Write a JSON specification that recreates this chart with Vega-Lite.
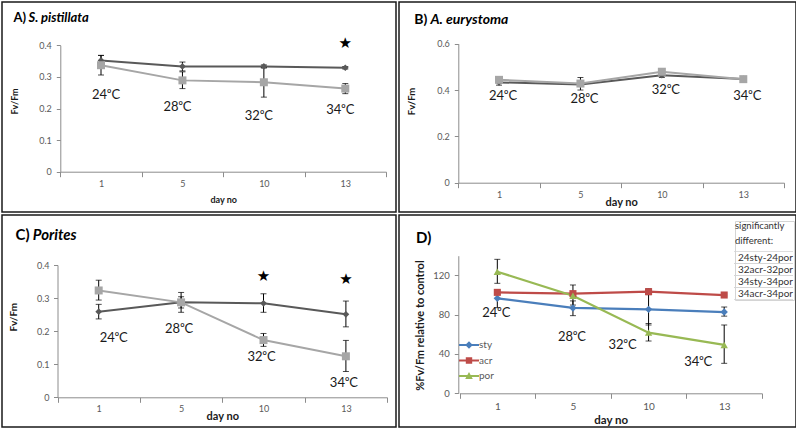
{
  "$schema": "https://vega.github.io/schema/vega-lite/v6.json",
  "padding": {"left": 1, "top": 1, "right": 0, "bottom": 0},
  "background": "white",
  "columns": 2,
  "spacing": 3,
  "bounds": "flush",
  "resolve": {
    "scale": {"color": "independent", "shape": "independent", "size": "independent", "fill": "independent"},
    "legend": {"color": "independent", "fill": "independent", "shape": "independent", "size": "independent"}
  },
  "config": {
    "view": {"stroke": "#1a1a1a", "strokeWidth": 1.5},
    "font": "Lato",
    "text": {"font": "Lato"},
    "axis": {"grid": false, "domainColor": "#8c8c8c", "tickColor": "#8c8c8c", "labelColor": "#595959", "labelFont": "Lato", "titleFont": "Lato", "titleFontWeight": "bold", "titleColor": "#1a1a1a", "domainWidth": 1, "tickWidth": 1},
    "axisX": {"labelAngle": 0, "tickBand": "extent", "tickSize": 5},
    "axisY": {"tickSize": 4},
    "title": {"anchor": "start", "frame": "group", "font": "Lato", "fontWeight": "bold", "fontStyle": "normal", "subtitleFont": "Lato", "subtitleFontWeight": "bold", "subtitleFontStyle": "italic", "color": "#000", "subtitleColor": "#000"}
  },
  "concat": [
    {
      "width": 394, "height": 210,
      "title": {"text": "A)", "subtitle": "\u200b\u2003\u2002S. pistillata", "fontSize": 13, "subtitleFontSize": 13, "subtitlePadding": -13, "offset": -23, "dx": 11.5},
      "data": {"values": [
        {"day": 1, "series": "control", "value": 0.352, "lo": 0.336, "hi": 0.368},
        {"day": 5, "series": "control", "value": 0.333, "lo": 0.319, "hi": 0.347},
        {"day": 10, "series": "control", "value": 0.333, "lo": 0.328, "hi": 0.338},
        {"day": 13, "series": "control", "value": 0.329, "lo": 0.325, "hi": 0.333},
        {"day": 1, "series": "treatment", "value": 0.337, "lo": 0.306, "hi": 0.368},
        {"day": 5, "series": "treatment", "value": 0.289, "lo": 0.263, "hi": 0.316},
        {"day": 10, "series": "treatment", "value": 0.283, "lo": 0.236, "hi": 0.33},
        {"day": 13, "series": "treatment", "value": 0.263, "lo": 0.247, "hi": 0.279}
      ]},
      "encoding": {"x": {"field": "day", "type": "ordinal", "title": "day no", "scale": {"type": "band", "domain": [1, 5, 10, 13], "range": [58.3, 384], "paddingInner": 0, "paddingOuter": 0}, "axis": {"offset": -40.3, "labelFontSize": 9, "labelPadding": 2.5, "titleFontSize": 9, "titleY": 27.6, "titleBaseline": "middle"}}},
      "layer": [
        {"mark": {"type": "line", "strokeWidth": 2}, "encoding": {
          "y": {"field": "value", "type": "quantitative", "title": "Fv/Fm", "scale": {"domain": [0, 0.4], "range": [169.7, 43.3]}, "axis": {"offset": -58.3, "values": [0, 0.1, 0.2, 0.3, 0.4], "format": ".1~f", "labelFontSize": 9, "labelPadding": 5, "titleFontSize": 9, "titleX": -46, "titleY": 99, "titleBaseline": "middle"}},
          "color": {"field": "series", "type": "nominal", "scale": {"domain": ["control", "treatment"], "range": ["#595959", "#a6a6a6"]}, "legend": null}}},
        {"mark": {"type": "rule", "color": "#000", "strokeWidth": 1}, "encoding": {
          "y": {"field": "lo", "type": "quantitative", "title": "Fv/Fm", "scale": {"domain": [0, 0.4], "range": [169.7, 43.3]}},
          "y2": {"field": "hi"}}},
        {"mark": {"type": "tick", "orient": "horizontal", "color": "#000", "size": 6, "thickness": 1}, "encoding": {
          "y": {"field": "lo", "type": "quantitative", "title": "Fv/Fm", "scale": {"domain": [0, 0.4], "range": [169.7, 43.3]}}}},
        {"mark": {"type": "tick", "orient": "horizontal", "color": "#000", "size": 6, "thickness": 1}, "encoding": {
          "y": {"field": "hi", "type": "quantitative", "title": "Fv/Fm", "scale": {"domain": [0, 0.4], "range": [169.7, 43.3]}}}},
        {"mark": {"type": "point", "filled": true, "opacity": 1}, "encoding": {
          "y": {"field": "value", "type": "quantitative", "title": "Fv/Fm", "scale": {"domain": [0, 0.4], "range": [169.7, 43.3]}},
          "color": {"field": "series", "type": "nominal", "scale": {"domain": ["control", "treatment"], "range": ["#595959", "#a6a6a6"]}, "legend": null},
          "shape": {"field": "series", "type": "nominal", "scale": {"domain": ["control", "treatment"], "range": ["diamond", "square"]}, "legend": null},
          "size": {"field": "series", "type": "ordinal", "scale": {"domain": ["control", "treatment"], "range": [45, 64]}, "legend": null}}},
        {"data": {"values": [{"day": 1, "t": "24⁰C", "ly": 0.243}]},
         "mark": {"type": "text", "fontSize": 13, "dx": 5, "color": "#1a1a1a"},
         "encoding": {"y": {"field": "ly", "type": "quantitative", "title": "Fv/Fm", "scale": {"domain": [0, 0.4], "range": [169.7, 43.3]}}, "text": {"field": "t"}}},
        {"data": {"values": [{"day": 5, "t": "28⁰C", "ly": 0.205}, {"day": 10, "t": "32⁰C", "ly": 0.176}, {"day": 13, "t": "34⁰C", "ly": 0.195}]},
         "mark": {"type": "text", "fontSize": 13, "dx": -5, "color": "#1a1a1a"},
         "encoding": {"y": {"field": "ly", "type": "quantitative", "title": "Fv/Fm", "scale": {"domain": [0, 0.4], "range": [169.7, 43.3]}}, "text": {"field": "t"}}},
        {"data": {"values": [{"day": 13, "t": "★", "ly": 0.408}]},
         "mark": {"type": "text", "font": "DejaVu Sans", "fontSize": 15, "color": "#000"},
         "encoding": {"y": {"field": "ly", "type": "quantitative", "title": "Fv/Fm", "scale": {"domain": [0, 0.4], "range": [169.7, 43.3]}}, "text": {"field": "t"}}}
      ]
    },
    {
      "width": 397, "height": 210,
      "title": {"text": "B)", "subtitle": "\u200b\u2003\u2002A. eurystoma", "fontSize": 14, "subtitleFontSize": 14, "subtitlePadding": -14, "offset": -25, "dx": 15.3},
      "data": {"values": [
        {"day": 1, "series": "control", "value": 0.433, "lo": 0.421, "hi": 0.445},
        {"day": 5, "series": "control", "value": 0.424, "lo": 0.416, "hi": 0.432},
        {"day": 10, "series": "control", "value": 0.464, "lo": 0.454, "hi": 0.474},
        {"day": 13, "series": "control", "value": 0.448, "lo": 0.443, "hi": 0.453},
        {"day": 1, "series": "treatment", "value": 0.444, "lo": 0.439, "hi": 0.449},
        {"day": 5, "series": "treatment", "value": 0.428, "lo": 0.4, "hi": 0.454},
        {"day": 10, "series": "treatment", "value": 0.479, "lo": 0.473, "hi": 0.485},
        {"day": 13, "series": "treatment", "value": 0.447, "lo": 0.443, "hi": 0.451}
      ]},
      "encoding": {"x": {"field": "day", "type": "ordinal", "title": "day no", "scale": {"type": "band", "domain": [1, 5, 10, 13], "range": [59.3, 385], "paddingInner": 0, "paddingOuter": 0}, "axis": {"offset": -29.3, "labelFontSize": 9, "labelPadding": 3, "titleFontSize": 11, "titleY": 19.5, "titleBaseline": "middle"}}},
      "layer": [
        {"mark": {"type": "line", "strokeWidth": 2}, "encoding": {
          "y": {"field": "value", "type": "quantitative", "title": "Fv/Fm", "scale": {"domain": [0, 0.6], "range": [180.7, 41.7]}, "axis": {"offset": -59.3, "values": [0, 0.1, 0.2, 0.3, 0.4, 0.5, 0.6], "format": ".1~f", "labelFontSize": 9, "labelPadding": 5, "titleFontSize": 9.5, "titleX": -47, "titleY": 99, "titleBaseline": "middle"}},
          "color": {"field": "series", "type": "nominal", "scale": {"domain": ["control", "treatment"], "range": ["#595959", "#a6a6a6"]}, "legend": null}}},
        {"mark": {"type": "rule", "color": "#000", "strokeWidth": 1}, "encoding": {
          "y": {"field": "lo", "type": "quantitative", "title": "Fv/Fm", "scale": {"domain": [0, 0.6], "range": [180.7, 41.7]}},
          "y2": {"field": "hi"}}},
        {"mark": {"type": "tick", "orient": "horizontal", "color": "#000", "size": 6, "thickness": 1}, "encoding": {
          "y": {"field": "lo", "type": "quantitative", "title": "Fv/Fm", "scale": {"domain": [0, 0.6], "range": [180.7, 41.7]}}}},
        {"mark": {"type": "tick", "orient": "horizontal", "color": "#000", "size": 6, "thickness": 1}, "encoding": {
          "y": {"field": "hi", "type": "quantitative", "title": "Fv/Fm", "scale": {"domain": [0, 0.6], "range": [180.7, 41.7]}}}},
        {"mark": {"type": "point", "filled": true, "opacity": 1}, "encoding": {
          "y": {"field": "value", "type": "quantitative", "title": "Fv/Fm", "scale": {"domain": [0, 0.6], "range": [180.7, 41.7]}},
          "color": {"field": "series", "type": "nominal", "scale": {"domain": ["control", "treatment"], "range": ["#595959", "#a6a6a6"]}, "legend": null},
          "shape": {"field": "series", "type": "nominal", "scale": {"domain": ["control", "treatment"], "range": ["diamond", "square"]}, "legend": null},
          "size": {"field": "series", "type": "ordinal", "scale": {"domain": ["control", "treatment"], "range": [45, 64]}, "legend": null}}},
        {"data": {"values": [{"day": 1, "t": "24⁰C", "ly": 0.374}, {"day": 5, "t": "28⁰C", "ly": 0.36}, {"day": 10, "t": "32⁰C", "ly": 0.399}, {"day": 13, "t": "34⁰C", "ly": 0.374}]},
         "mark": {"type": "text", "fontSize": 13, "dx": 4, "color": "#1a1a1a"},
         "encoding": {"y": {"field": "ly", "type": "quantitative", "title": "Fv/Fm", "scale": {"domain": [0, 0.6], "range": [180.7, 41.7]}}, "text": {"field": "t"}}}
      ]
    },
    {
      "width": 394, "height": 212,
      "title": {"text": "C)", "subtitle": "\u200b\u2003\u2002Porites", "fontSize": 15, "subtitleFontSize": 15, "subtitlePadding": -15, "offset": -28, "dx": 13.5},
      "data": {"values": [
        {"day": 1, "series": "control", "value": 0.259, "lo": 0.237, "hi": 0.281},
        {"day": 5, "series": "control", "value": 0.287, "lo": 0.257, "hi": 0.317},
        {"day": 10, "series": "control", "value": 0.284, "lo": 0.257, "hi": 0.313},
        {"day": 13, "series": "control", "value": 0.251, "lo": 0.213, "hi": 0.291},
        {"day": 1, "series": "treatment", "value": 0.323, "lo": 0.294, "hi": 0.354},
        {"day": 5, "series": "treatment", "value": 0.287, "lo": 0.27, "hi": 0.304},
        {"day": 10, "series": "treatment", "value": 0.173, "lo": 0.154, "hi": 0.193},
        {"day": 13, "series": "treatment", "value": 0.124, "lo": 0.078, "hi": 0.172}
      ]},
      "encoding": {"x": {"field": "day", "type": "ordinal", "title": "day no", "scale": {"type": "band", "domain": [1, 5, 10, 13], "range": [55.5, 385.1], "paddingInner": 0, "paddingOuter": 0}, "axis": {"offset": -29.7, "labelFontSize": 9, "labelPadding": 2.5, "titleFontSize": 11, "titleY": 19.4, "titleBaseline": "middle"}}},
      "layer": [
        {"mark": {"type": "line", "strokeWidth": 2}, "encoding": {
          "y": {"field": "value", "type": "quantitative", "title": "Fv/Fm", "scale": {"domain": [0, 0.4], "range": [182.3, 50]}, "axis": {"offset": -55.5, "values": [0, 0.1, 0.2, 0.3, 0.4], "format": ".1~f", "labelFontSize": 9, "labelPadding": 4.5, "titleFontSize": 10, "titleX": -44.5, "titleY": 101.7, "titleBaseline": "middle"}},
          "color": {"field": "series", "type": "nominal", "scale": {"domain": ["control", "treatment"], "range": ["#595959", "#a6a6a6"]}, "legend": null}}},
        {"mark": {"type": "rule", "color": "#000", "strokeWidth": 1}, "encoding": {
          "y": {"field": "lo", "type": "quantitative", "title": "Fv/Fm", "scale": {"domain": [0, 0.4], "range": [182.3, 50]}},
          "y2": {"field": "hi"}}},
        {"mark": {"type": "tick", "orient": "horizontal", "color": "#000", "size": 6, "thickness": 1}, "encoding": {
          "y": {"field": "lo", "type": "quantitative", "title": "Fv/Fm", "scale": {"domain": [0, 0.4], "range": [182.3, 50]}}}},
        {"mark": {"type": "tick", "orient": "horizontal", "color": "#000", "size": 6, "thickness": 1}, "encoding": {
          "y": {"field": "hi", "type": "quantitative", "title": "Fv/Fm", "scale": {"domain": [0, 0.4], "range": [182.3, 50]}}}},
        {"mark": {"type": "point", "filled": true, "opacity": 1}, "encoding": {
          "y": {"field": "value", "type": "quantitative", "title": "Fv/Fm", "scale": {"domain": [0, 0.4], "range": [182.3, 50]}},
          "color": {"field": "series", "type": "nominal", "scale": {"domain": ["control", "treatment"], "range": ["#595959", "#a6a6a6"]}, "legend": null},
          "shape": {"field": "series", "type": "nominal", "scale": {"domain": ["control", "treatment"], "range": ["diamond", "square"]}, "legend": null},
          "size": {"field": "series", "type": "ordinal", "scale": {"domain": ["control", "treatment"], "range": [45, 64]}, "legend": null}}},
        {"data": {"values": [{"day": 1, "t": "24⁰C", "ly": 0.178}]},
         "mark": {"type": "text", "fontSize": 13, "dx": 15, "color": "#1a1a1a"},
         "encoding": {"y": {"field": "ly", "type": "quantitative", "title": "Fv/Fm", "scale": {"domain": [0, 0.4], "range": [182.3, 50]}}, "text": {"field": "t"}}},
        {"data": {"values": [{"day": 5, "t": "28⁰C", "ly": 0.2065}, {"day": 10, "t": "32⁰C", "ly": 0.123}, {"day": 13, "t": "34⁰C", "ly": 0.042}]},
         "mark": {"type": "text", "fontSize": 13, "dx": -2, "color": "#1a1a1a"},
         "encoding": {"y": {"field": "ly", "type": "quantitative", "title": "Fv/Fm", "scale": {"domain": [0, 0.4], "range": [182.3, 50]}}, "text": {"field": "t"}}},
        {"data": {"values": [{"day": 10, "t": "★", "ly": 0.368}, {"day": 13, "t": "★", "ly": 0.358}]},
         "mark": {"type": "text", "font": "DejaVu Sans", "fontSize": 15, "color": "#000"},
         "encoding": {"y": {"field": "ly", "type": "quantitative", "title": "Fv/Fm", "scale": {"domain": [0, 0.4], "range": [182.3, 50]}}, "text": {"field": "t"}}}
      ]
    },
    {
      "width": 397, "height": 212,
      "title": {"text": "D)", "fontSize": 15, "offset": -31, "dx": 17},
      "data": {"values": [
        {"day": 1, "series": "sty", "value": 96.6, "lo": 87.1, "hi": 104},
        {"day": 5, "series": "sty", "value": 86.8, "lo": 79, "hi": 94},
        {"day": 10, "series": "sty", "value": 85.4, "lo": 69.5, "hi": 101.3},
        {"day": 13, "series": "sty", "value": 82.7, "lo": 78.5, "hi": 87.8},
        {"day": 1, "series": "acr", "value": 102.7, "lo": 100.5, "hi": 104.9},
        {"day": 5, "series": "acr", "value": 101.4, "lo": 99.5, "hi": 103.3},
        {"day": 10, "series": "acr", "value": 103.4, "lo": 100.4, "hi": 106.4},
        {"day": 13, "series": "acr", "value": 100, "lo": 99, "hi": 101},
        {"day": 1, "series": "por", "value": 123.7, "lo": 111.9, "hi": 136.3},
        {"day": 5, "series": "por", "value": 99.3, "lo": 89.8, "hi": 110.2},
        {"day": 10, "series": "por", "value": 61.7, "lo": 53.2, "hi": 71},
        {"day": 13, "series": "por", "value": 49.2, "lo": 30.5, "hi": 69.5}
      ]},
      "encoding": {"x": {"field": "day", "type": "ordinal", "title": "day no", "scale": {"type": "band", "domain": [1, 5, 10, 13], "range": [60.5, 363], "paddingInner": 0, "paddingOuter": 0}, "axis": {"offset": -33.7, "labelFontSize": 10, "labelPadding": 3.4, "titleFontSize": 11.5, "titleY": 26.7, "titleBaseline": "middle"}}},
      "layer": [
        {"transform": [{"filter": {"field": "series", "equal": "sty"}}],
         "mark": {"type": "line", "strokeWidth": 2.25, "color": "#4a7ebb"}, "encoding": {
          "y": {"field": "value", "type": "quantitative", "title": "%Fv/Fm relative to control", "scale": {"domain": [0, 140], "range": [178.3, 40.7]}, "axis": {"offset": -59.3, "values": [0, 20, 40, 60, 80, 100, 120, 140], "labelFontSize": 9.5, "labelPadding": 5, "titleFontSize": 11, "titleX": -37.6, "titleY": 110, "titleBaseline": "middle"}}}},
        {"transform": [{"filter": {"field": "series", "equal": "acr"}}],
         "mark": {"type": "line", "strokeWidth": 2.25, "color": "#be4b48"}, "encoding": {
          "y": {"field": "value", "type": "quantitative", "title": "%Fv/Fm relative to control", "scale": {"domain": [0, 140], "range": [178.3, 40.7]}}}},
        {"transform": [{"filter": {"field": "series", "equal": "por"}}],
         "mark": {"type": "line", "strokeWidth": 2.25, "color": "#98b954"}, "encoding": {
          "y": {"field": "value", "type": "quantitative", "title": "%Fv/Fm relative to control", "scale": {"domain": [0, 140], "range": [178.3, 40.7]}}}},
        {"mark": {"type": "rule", "color": "#000", "strokeWidth": 1}, "encoding": {
          "y": {"field": "lo", "type": "quantitative", "title": "%Fv/Fm relative to control", "scale": {"domain": [0, 140], "range": [178.3, 40.7]}},
          "y2": {"field": "hi"}}},
        {"mark": {"type": "tick", "orient": "horizontal", "color": "#000", "size": 6, "thickness": 1}, "encoding": {
          "y": {"field": "lo", "type": "quantitative", "title": "%Fv/Fm relative to control", "scale": {"domain": [0, 140], "range": [178.3, 40.7]}}}},
        {"mark": {"type": "tick", "orient": "horizontal", "color": "#000", "size": 6, "thickness": 1}, "encoding": {
          "y": {"field": "hi", "type": "quantitative", "title": "%Fv/Fm relative to control", "scale": {"domain": [0, 140], "range": [178.3, 40.7]}}}},
        {"transform": [{"filter": {"field": "series", "equal": "sty"}}],
         "mark": {"type": "point", "filled": true, "opacity": 1, "size": 55, "shape": "diamond", "color": "#4a7ebb"}, "encoding": {
          "y": {"field": "value", "type": "quantitative", "title": "%Fv/Fm relative to control", "scale": {"domain": [0, 140], "range": [178.3, 40.7]}}}},
        {"transform": [{"filter": {"field": "series", "equal": "acr"}}],
         "mark": {"type": "point", "filled": true, "opacity": 1, "size": 50, "shape": "square", "color": "#be4b48"}, "encoding": {
          "y": {"field": "value", "type": "quantitative", "title": "%Fv/Fm relative to control", "scale": {"domain": [0, 140], "range": [178.3, 40.7]}}}},
        {"transform": [{"filter": {"field": "series", "equal": "por"}}],
         "mark": {"type": "point", "filled": true, "opacity": 1, "size": 55, "shape": "triangle-up", "color": "#98b954"}, "encoding": {
          "y": {"field": "value", "type": "quantitative", "title": "%Fv/Fm relative to control", "scale": {"domain": [0, 140], "range": [178.3, 40.7]}}}},
        {"mark": {"type": "point", "filled": true, "opacity": 0}, "encoding": {
          "y": {"field": "value", "type": "quantitative", "title": "%Fv/Fm relative to control", "scale": {"domain": [0, 140], "range": [178.3, 40.7]}},
          "color": {"field": "series", "type": "nominal", "scale": {"domain": ["sty", "acr", "por"], "range": ["#4a7ebb", "#be4b48", "#98b954"]},
            "legend": {"orient": "none", "legendX": 60, "legendY": 120, "title": null, "padding": 0, "rowPadding": 0.5, "labelFont": "Lato", "labelFontSize": 10, "labelColor": "#595959", "labelOffset": 0, "symbolSize": 400, "symbolOpacity": 1, "symbolStrokeWidth": 0}},
          "shape": {"field": "series", "type": "nominal", "scale": {"domain": ["sty", "acr", "por"], "range": ["M-1,-0.1H1V0.1H-1ZM0,-0.38L0.38,0L0,0.38L-0.38,0Z", "M-1,-0.1H1V0.1H-1ZM-0.32,-0.32H0.32V0.32H-0.32Z", "M-1,-0.1H1V0.1H-1ZM0,-0.4L0.38,0.3H-0.38Z"]},
            "legend": {"orient": "none", "legendX": 60, "legendY": 120, "title": null, "padding": 0, "rowPadding": 0.5, "labelFont": "Lato", "labelFontSize": 10, "labelColor": "#595959", "labelOffset": 0, "symbolSize": 400, "symbolOpacity": 1, "symbolStrokeWidth": 0}}}},
        {"data": {"values": [{"day": 1, "t": "24⁰C", "ly": 81.4}, {"day": 5, "t": "28⁰C", "ly": 57.6}]},
         "mark": {"type": "text", "fontSize": 13, "dx": -1, "color": "#1a1a1a"},
         "encoding": {"y": {"field": "ly", "type": "quantitative", "title": "%Fv/Fm relative to control", "scale": {"domain": [0, 140], "range": [178.3, 40.7]}}, "text": {"field": "t"}}},
        {"data": {"values": [{"day": 10, "t": "32⁰C", "ly": 49.1}, {"day": 13, "t": "34⁰C", "ly": 32.2}]},
         "mark": {"type": "text", "fontSize": 13, "dx": -26, "color": "#1a1a1a"},
         "encoding": {"y": {"field": "ly", "type": "quantitative", "title": "%Fv/Fm relative to control", "scale": {"domain": [0, 140], "range": [178.3, 40.7]}}, "text": {"field": "t"}}},
        {"data": {"values": [{"entry": "24sty-24por"}, {"entry": "32acr-32por"}, {"entry": "34sty-34por"}, {"entry": "34acr-34por"}]},
         "mark": {"type": "point", "filled": true, "opacity": 0, "size": 4},
         "encoding": {"fill": {"field": "entry", "type": "nominal", "scale": {"domain": ["24sty-24por", "32acr-32por", "34sty-34por", "34acr-34por"], "range": ["#d4d4d4", "#d4d4d4", "#d4d4d4", "#d4d4d4"]},
           "legend": {"orient": "none", "legendX": 336, "legendY": 6, "title": ["significantly", "different:"], "titleFont": "Lato", "titleFontSize": 9.5, "titleFontWeight": "normal", "titleColor": "#333333", "titleLineHeight": 15, "titlePadding": 7, "padding": 0, "rowPadding": -2.3, "labelFont": "Lato", "labelFontSize": 10, "labelColor": "#333333", "labelOffset": -7, "labelLimit": 0, "strokeColor": "#d4d4d4", "symbolSize": 4, "symbolOpacity": 1, "symbolStrokeWidth": 0, "symbolType": "M-6,-6.2H53V-5.5H-6ZM-6,5.5H53V6.2H-6Z"}}}}
      ]
    }
  ]
}
